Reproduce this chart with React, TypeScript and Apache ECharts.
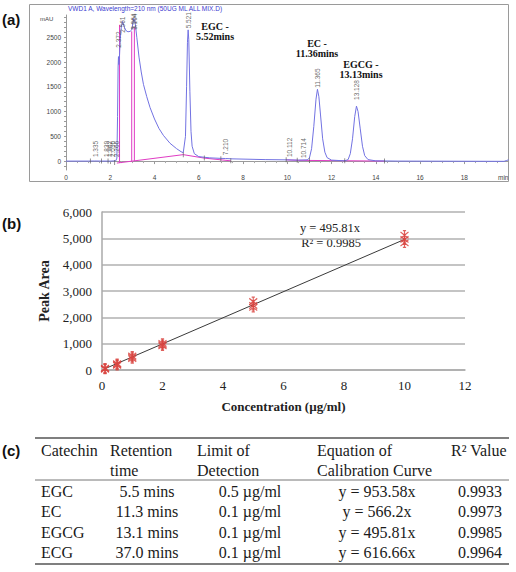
import React, { useEffect, useRef } from "react";
import * as echarts from "echarts";

// ---------- (a) chromatogram ----------
const chromTitle = "VWD1 A, Wavelength=210 nm (50UG ML ALL MIX.D)";
const chromYLabels = [0, 500, 1000, 1500, 2000, 2500];
const chromYTicks = [-100, 0, 100, 200, 300, 400, 500, 600, 700, 800, 900, 1000, 1100, 1200, 1300, 1400, 1500, 1600, 1700, 1800, 1900, 2000, 2100, 2200, 2300, 2400, 2500, 2600, 2700, 2800, 2900];
const traceTime = [
  0, 1.0, 1.3, 1.6, 2.0, 2.25, 2.3, 2.33, 2.355, 2.372, 2.39, 2.41, 2.45, 2.5, 2.561, 2.62, 2.7, 2.8, 2.9, 2.97,
  3.03, 3.064, 3.104, 3.15, 3.2, 3.3, 3.4, 3.5, 3.65, 3.8, 4.0, 4.2, 4.4, 4.7, 5.0, 5.2, 5.3, 5.4, 5.45, 5.49,
  5.521, 5.55, 5.6, 5.65, 5.7, 5.8, 6.0, 6.5, 7.0, 7.21, 7.5, 8.0, 9.0, 10.0, 10.5, 10.9, 11.0, 11.1, 11.2, 11.3,
  11.365, 11.43, 11.5, 11.6, 11.7, 11.8, 12.0, 12.6, 12.75, 12.85, 12.95, 13.05, 13.128, 13.2, 13.3, 13.4, 13.5, 13.65, 14.0, 15.0,
  19.8, 19.9, 20,
];
const traceSignal = [
  0, 0, 2, 0, 0, 5, 60, 900, 1900, 2110, 1950, 2050, 2450, 2720, 2820, 2720, 2640, 2610, 2620, 2650,
  2800, 2880, 2860, 2700, 2500, 2100, 1800, 1550, 1300, 1080, 850, 660, 520, 360, 250, 190, 170, 500, 1500, 2400,
  2650, 2450, 1400, 600, 300, 150, 90, 65, 55, 52, 45, 40, 30, 25, 20, 25, 60, 250, 700, 1250,
  1450, 1300, 950, 450, 180, 70, 20, 5, 30, 150, 450, 900, 1110, 1000, 650, 300, 110, 30, 5, 0,
  -5, 10, 25,
];
// integration baselines (magenta): each segment is a list of [time, signal]
const baselineSegments: number[][][] = [
  [[2.3, -40], [5.3, 130], [6.25, 60], [7.45, 5]],
  [[9.95, 25], [10.45, 15], [14.4, 0]],
  [[2.42, -35], [2.42, 2750]],
  [[2.97, -5], [2.97, 2620]],
  [[3.09, 0], [3.09, 2700]],
];
const peakTimes = [1.335, 1.839, 1.962, 2.096, 2.266, 2.372, 2.561, 3.064, 3.104, 5.521, 7.21, 10.112, 10.714, 11.365, 13.128];
const peakLabelBase = [80, 80, 80, 80, 80, 2290, 2590, 2650, 2650, 2680, 120, 80, 60, 1480, 1235];
const eventTimes = [1.1, 1.6, 1.9, 2.2, 5.3, 6.25, 7.0, 7.45, 9.95, 10.45, 11.0, 12.6, 14.4];
const eventSignals = [0, 0, 0, -30, 130, 60, 45, 5, 25, 15, 15, 5, 0];
const peakNotes = [
  { lines: ["EGC -", "5.52mins"], x: 215, y: 26 },
  { lines: ["EC -", "11.36mins"], x: 317, y: 43 },
  { lines: ["EGCG -", "13.13mins"], x: 361, y: 64 },
];

// ---------- (b) calibration curve ----------
const concentrations = [0.1, 0.5, 1, 2, 5, 10];
const peakAreaRep1 = [30, 180, 430, 920, 2380, 4830];
const peakAreaRep2 = [50, 210, 480, 960, 2450, 4960];
const peakAreaRep3 = [70, 240, 530, 1010, 2600, 5120];
const slope = 495.81;
const trendRange = [0.1, 10];
const equationText = "y = 495.81x";
const r2Text = "R² = 0.9985";

// ---------- (c) table ----------
const headerRow1 = ["Catechin", "Retention", "Limit of", "Equation of", "R² Value"];
const headerRow2 = ["", "time", "Detection", "Calibration Curve", ""];
const catechins = ["EGC", "EC", "EGCG", "ECG"];
const retentionTimes = ["5.5 mins", "11.3 mins", "13.1 mins", "37.0 mins"];
const detectionLimits = ["0.5 µg/ml", "0.1 µg/ml", "0.1 µg/ml", "0.1 µg/ml"];
const equations = ["y = 953.58x", "y = 566.2x", "y = 495.81x", "y = 616.66x"];
const r2Values = ["0.9933", "0.9973", "0.9985", "0.9964"];

const SERIF = '"Liberation Serif", "Times New Roman", serif';
const SANS = '"Liberation Sans", Arial, sans-serif';

export default function App() {
  const ref = useRef<HTMLDivElement>(null);

  useEffect(() => {
    if (!ref.current) return;
    const chart = echarts.init(ref.current, null, { renderer: "svg" });

    const traceData = traceTime.map((t, i) => [t, traceSignal[i]]);
    const baselineSeries = baselineSegments.map((seg) => ({
      type: "line",
      xAxisIndex: 0,
      yAxisIndex: 0,
      data: seg,
      showSymbol: false,
      symbol: "none",
      lineStyle: { color: "#e03cc4", width: 1 },
      z: 3,
    }));

    const graphics: any[] = [];
    graphics.push({
      type: "rect",
      shape: { x: 29.5, y: 4.5, width: 479, height: 177 },
      style: { fill: "none", stroke: "#9a9a9a", lineWidth: 1 },
      silent: true,
    });
    graphics.push({
      type: "text",
      x: 68,
      y: 8.5,
      style: { text: chromTitle, fill: "#3b3bd0", fontSize: 6.5, fontFamily: SANS, align: "left", verticalAlign: "middle" },
    });
    graphics.push({
      type: "text",
      x: 40,
      y: 19,
      style: { text: "mAU", fill: "#444", fontSize: 6, fontFamily: SANS, align: "left", verticalAlign: "middle" },
    });
    peakNotes.forEach((n) => {
      n.lines.forEach((ln, i) => {
        graphics.push({
          type: "text",
          x: n.x,
          y: n.y + i * 10,
          style: { text: ln, fill: "#111", fontSize: 10, fontWeight: "bold", fontFamily: SERIF, align: "center", verticalAlign: "middle" },
        });
      });
    });
    [["(a)", 19], ["(b)", 223], ["(c)", 450]].forEach(([t, y]) => {
      graphics.push({
        type: "text",
        x: 2,
        y: y as number,
        style: { text: t as string, fill: "#111", fontSize: 15, fontWeight: "bold", fontFamily: SANS, align: "left", verticalAlign: "middle" },
      });
    });
    graphics.push({
      type: "text",
      x: 330,
      y: 228,
      style: { text: equationText, fill: "#222", fontSize: 12.5, fontFamily: SERIF, align: "center", verticalAlign: "middle" },
    });
    graphics.push({
      type: "text",
      x: 331,
      y: 243,
      style: { text: r2Text, fill: "#222", fontSize: 12.5, fontFamily: SERIF, align: "center", verticalAlign: "middle" },
    });

    // table (c)
    const tLeft = 35;
    const tRight = 509;
    const topLine = 438;
    const h1 = 450;
    const h2 = 470;
    const sepLine = 480;
    const row0 = 491;
    const rowStep = 20.5;
    const bottomLine = 564;
    graphics.push({ type: "line", shape: { x1: tLeft, y1: topLine, x2: tRight, y2: topLine }, style: { stroke: "#555", lineWidth: 1.5 } });
    graphics.push({ type: "line", shape: { x1: tLeft, y1: sepLine, x2: tRight, y2: sepLine }, style: { stroke: "#777", lineWidth: 1 } });
    graphics.push({ type: "line", shape: { x1: tLeft, y1: bottomLine, x2: tRight, y2: bottomLine }, style: { stroke: "#555", lineWidth: 1.5 } });
    const headerX = [41, 110, 197, 317, 451];
    const txt = (text: string, x: number, y: number, align: string) => ({
      type: "text",
      x,
      y,
      style: { text, fill: "#1a1a1a", fontSize: 16, fontFamily: SERIF, align, verticalAlign: "middle" },
    });
    headerRow1.forEach((h, i) => graphics.push(txt(h, headerX[i], h1, "left")));
    headerRow2.forEach((h, i) => h && graphics.push(txt(h, headerX[i], h2, "left")));
    catechins.forEach((c, i) => {
      const y = row0 + i * rowStep;
      graphics.push(txt(c, 41, y, "left"));
      graphics.push(txt(retentionTimes[i], 147, y, "center"));
      graphics.push(txt(detectionLimits[i], 250, y, "center"));
      graphics.push(txt(equations[i], 377, y, "center"));
      graphics.push(txt(r2Values[i], 480, y, "center"));
    });

    const asterisk = "path://M5,0L5,10M0,1.5L10,8.5M0,8.5L10,1.5M3,0L7,0M3,10L7,10";
    const repStyle = {
      type: "scatter",
      xAxisIndex: 1,
      yAxisIndex: 1,
      symbol: asterisk,
      symbolSize: [8, 9],
      itemStyle: { color: "rgba(0,0,0,0)", borderColor: "#d9443f", borderWidth: 1.2, opacity: 0.85 },
      z: 5,
    };

    const option: any = {
      animation: false,
      textStyle: { fontFamily: SANS },
      grid: [
        { left: 66, top: 15, width: 442.5, height: 155 },
        { left: 102, top: 212, width: 363, height: 158 },
      ],
      xAxis: [
        {
          gridIndex: 0,
          type: "value",
          min: 0,
          max: 20,
          interval: 2,
          axisLine: { lineStyle: { color: "#9a9a9a", width: 1 } },
          axisTick: { length: 3, lineStyle: { color: "#9a9a9a" } },
          minorTick: { show: true, splitNumber: 4, length: 2, lineStyle: { color: "#aaa" } },
          splitLine: { show: false },
          axisLabel: {
            fontSize: 6.5,
            color: "#444",
            margin: 4,
            alignMaxLabel: "right",
            formatter: (v: number) => (v === 20 ? "min" : String(v)),
          },
        },
        {
          gridIndex: 1,
          type: "value",
          min: 0,
          max: 12,
          interval: 2,
          axisLine: { lineStyle: { color: "#aaa", width: 1.5 } },
          axisTick: { show: false },
          splitLine: { show: false },
          axisLabel: { fontFamily: SERIF, fontSize: 13, color: "#222", margin: 9 },
          name: "Concentration (µg/ml)",
          nameLocation: "middle",
          nameGap: 30,
          nameTextStyle: { fontFamily: SERIF, fontSize: 13, fontWeight: "bold", color: "#222" },
        },
      ],
      yAxis: [
        {
          gridIndex: 0,
          type: "value",
          min: -180,
          max: 2950,
          axisLine: { show: true, lineStyle: { color: "#9a9a9a", width: 1 } },
          axisTick: { show: true, customValues: chromYTicks, length: 2, lineStyle: { color: "#9a9a9a" } },
          splitLine: { show: false },
          axisLabel: {
            customValues: chromYLabels,
            fontSize: 6.5,
            color: "#444",
            margin: 5,
            formatter: (v: number) => String(v),
          },
        },
        {
          gridIndex: 1,
          type: "value",
          min: 0,
          max: 6000,
          interval: 1000,
          axisLine: { show: true, lineStyle: { color: "#aaa", width: 1.5 } },
          axisTick: { show: false },
          splitLine: { show: true, lineStyle: { color: "#b0b0b0", width: 1.5 } },
          axisLabel: {
            fontFamily: SERIF,
            fontSize: 13,
            color: "#222",
            margin: 10,
            formatter: (v: number) => v.toLocaleString("en-US"),
          },
          name: "Peak Area",
          nameLocation: "middle",
          nameGap: 46,
          nameRotate: 90,
          nameTextStyle: { fontFamily: SERIF, fontSize: 14, fontWeight: "bold", color: "#222" },
        },
      ],
      series: [
        {
          type: "line",
          xAxisIndex: 0,
          yAxisIndex: 0,
          data: traceData,
          showSymbol: false,
          symbol: "none",
          lineStyle: { color: "#7272e2", width: 1 },
          clip: true,
          z: 4,
        },
        ...baselineSeries,
        {
          type: "scatter",
          xAxisIndex: 0,
          yAxisIndex: 0,
          data: eventTimes.map((t, i) => [t, eventSignals[i]]),
          symbol: "rect",
          symbolSize: [0.8, 5],
          itemStyle: { color: "#555" },
          z: 6,
        },
        {
          type: "scatter",
          xAxisIndex: 0,
          yAxisIndex: 0,
          data: peakTimes.map((t, i) => ({ value: [t, peakLabelBase[i]], name: t.toFixed(3) })),
          symbolSize: 0,
          label: {
            show: true,
            position: "inside",
            rotate: 90,
            align: "left",
            verticalAlign: "middle",
            formatter: (p: any) => p.name,
            fontSize: 6.5,
            color: "#444",
            fontFamily: SANS,
          },
          z: 7,
        },
        {
          type: "line",
          xAxisIndex: 1,
          yAxisIndex: 1,
          data: trendRange.map((x) => [x, slope * x]),
          showSymbol: false,
          symbol: "none",
          lineStyle: { color: "#3a3a3a", width: 1 },
          z: 4,
        },
        { ...repStyle, data: concentrations.map((c, i) => [c, peakAreaRep1[i]]) },
        { ...repStyle, data: concentrations.map((c, i) => [c, peakAreaRep2[i]]) },
        { ...repStyle, data: concentrations.map((c, i) => [c, peakAreaRep3[i]]) },
      ],
      graphic: graphics,
    };

    chart.setOption(option);
    return () => chart.dispose();
  }, []);

  return (
    <div
      ref={ref}
      style={{ position: "fixed", left: 0, top: 0, width: 516, height: 572, background: "#fff" }}
    />
  );
}
